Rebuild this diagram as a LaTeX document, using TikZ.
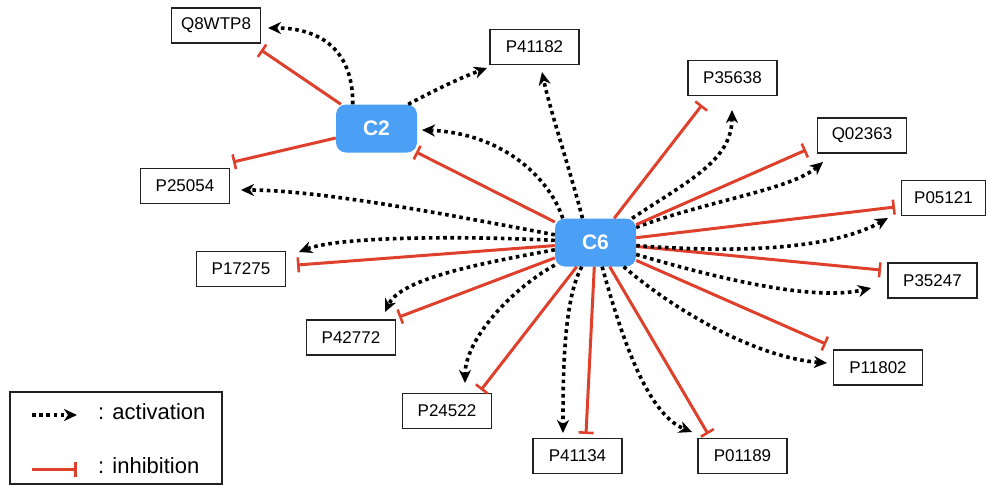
\documentclass[tikz,border=0pt]{standalone}
\usepackage{fontspec}
\setmainfont{Liberation Sans}
\usetikzlibrary{arrows.meta}
\definecolor{cblue}{RGB}{75,159,245}
\definecolor{cred}{RGB}{222,64,44}
\definecolor{cbox}{RGB}{34,34,34}
\tikzset{
  prot/.style={draw=cbox, line width=1.3pt, fill=white, minimum width=89pt, minimum height=35pt, inner sep=0pt, font=\fontsize{17}{20}\selectfont},
  clus/.style={fill=cblue, rounded corners=10pt, minimum width=81pt, minimum height=48pt, inner sep=0pt, text=white, font=\fontsize{21}{24}\selectfont\bfseries},
  act/.style={draw=black, line width=3.6pt, dash pattern=on 3.6pt off 3.6pt, -{Stealth[length=13pt,width=12pt,inset=4pt]}},
  inh/.style={draw=cred, line width=3pt, -{Bar[width=15pt,line width=2.6pt]}},
  legtext/.style={anchor=west, inner sep=0pt, font=\fontsize{22}{26}\selectfont}
}
\begin{document}
\begin{tikzpicture}[x=1pt,y=-1pt]
\useasboundingbox (0,0) rectangle (986,485);
% clusters
\node[clus] (C2) at (376.5,128.5) {C2};
\node[clus] (C6) at (595.5,242.5) {C6};
% proteins
\node[prot] (Q8WTP8) at (216,25.5) {Q8WTP8};
\node[prot] (P41182) at (534.5,47) {P41182};
\node[prot] (P35638) at (732.5,78) {P35638};
\node[prot] (Q02363) at (862,135.5) {Q02363};
\node[prot, minimum width=84pt] (P05121) at (943.5,198) {P05121};
\node[prot] (P25054) at (185,186) {P25054};
\node[prot] (P17275) at (241,269) {P17275};
\node[prot] (P42772) at (351,337.5) {P42772};
\node[prot] (P24522) at (447,411) {P24522};
\node[prot] (P41134) at (577.5,456) {P41134};
\node[prot] (P01189) at (742.5,456) {P01189};
\node[prot] (P35247) at (932.5,280.5) {P35247};
\node[prot] (P11802) at (878,367.5) {P11802};
% connector ends
\coordinate (aQ8) at (268,28);
\coordinate (iQ8) at (261,50);
\coordinate (aP41182a) at (487,68);
\coordinate (aP41182b) at (542,72);
\coordinate (iP25054) at (233,162);
\coordinate (aP25054) at (241,190);
\coordinate (aC2) at (422,130);
\coordinate (iC2) at (416,152);
\coordinate (aP17275) at (299,252);
\coordinate (iP17275) at (297,265);
\coordinate (aP42772) at (385,312);
\coordinate (iP42772) at (399,317);
\coordinate (aP24522) at (465,383);
\coordinate (iP24522) at (481,390);
\coordinate (aP41134) at (563,433);
\coordinate (iP41134) at (586,434);
\coordinate (aP01189) at (692,432);
\coordinate (iP01189) at (708,434);
\coordinate (aP11802) at (827,363);
\coordinate (iP11802) at (826,344);
\coordinate (aP35247) at (871,288);
\coordinate (iP35247) at (881,270);
\coordinate (aP05121) at (888,218);
\coordinate (iP05121) at (895,207);
\coordinate (aQ02363) at (823,162);
\coordinate (iQ02363) at (806,150);
\coordinate (aP35638) at (732,110);
\coordinate (iP35638) at (702,105);
% C2 connectors
\draw[act] ([xshift=17pt]C2.north west) .. controls (353,45) and (315,28) .. (aQ8);
\draw[inh] (C2) -- (iQ8);
\draw[act] ([xshift=-9pt]C2.north east) .. controls (435,90) and (460,78) .. (aP41182a);
\draw[inh] (C2) -- (iP25054);
% C6 connectors
\draw[act] ([xshift=8pt]C6.north west) .. controls (548,175) and (500,133) .. (aC2);
\draw[inh] (C6) -- (iC2);
\draw[act] ([xshift=-13pt]C6.north) .. controls (570,170) and (550,110) .. (aP41182b);
\draw[act] (C6) .. controls (450,215) and (320,190) .. (aP25054);
\draw[act] (C6) .. controls (470,236) and (340,236) .. (aP17275);
\draw[inh] (C6) -- (iP17275);
\draw[act] (C6) .. controls (470,265) and (400,280) .. (aP42772);
\draw[inh] (C6) -- (iP42772);
\draw[act] (C6) .. controls (510,290) and (465,340) .. (aP24522);
\draw[inh] (C6) -- (iP24522);
\draw[act] (C6) .. controls (563,300) and (563,380) .. (aP41134);
\draw[inh] (C6) -- (iP41134);
\draw[act] (C6) .. controls (625,350) and (650,415) .. (aP01189);
\draw[inh] (C6) -- (iP01189);
\draw[act] (C6) .. controls (680,315) and (760,358) .. (aP11802);
\draw[inh] (C6) -- (iP11802);
\draw[act] (C6) .. controls (740,285) and (820,300) .. (aP35247);
\draw[inh] (C6) -- (iP35247);
\draw[act] (C6) .. controls (760,255) and (840,245) .. (aP05121);
\draw[inh] (C6) -- (iP05121);
\draw[act] (C6) .. controls (710,200) and (790,190) .. (aQ02363);
\draw[inh] (C6) -- (iQ02363);
\draw[act] (C6) .. controls (690,180) and (732,160) .. (aP35638);
\draw[inh] (C6) -- (iP35638);
% legend
\node[draw=cbox, line width=1.3pt, minimum width=212pt, minimum height=92pt, inner sep=0pt] (legend) at (116,438) {};
\coordinate (la1) at (32,415);
\coordinate (la2) at (77,415);
\coordinate (li1) at (32,469);
\coordinate (li2) at (77,469);
\draw[act] (la1) -- (la2);
\draw[inh] (li1) -- (li2);
\node[legtext] (lact) at (98,412) {: activation};
\node[legtext] (linh) at (98,466) {: inhibition};
\end{tikzpicture}
\end{document}
